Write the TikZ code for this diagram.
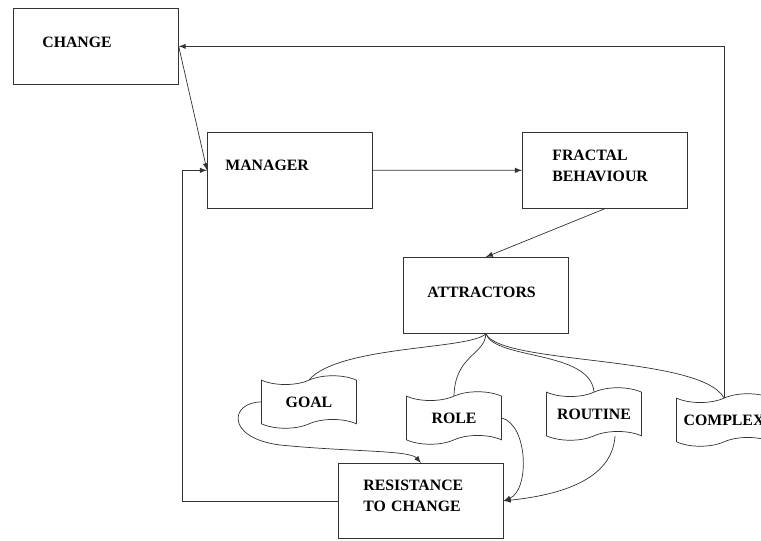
\documentclass[tikz,border=0pt]{standalone}
\usepackage{fontspec}
\setmainfont{Liberation Serif}
\usetikzlibrary{shapes.symbols}

\tikzset{
  box/.style={draw=black!80, anchor=north west, align=left, inner ysep=0pt,
              font=\bfseries\fontsize{9}{12}\selectfont},
  banner/.style={tape, draw=black!80, minimum width=1.9cm, minimum height=1.05cm,
              inner sep=1pt, font=\bfseries\fontsize{9}{12}\selectfont},
  link/.style={draw=black!80, thin},
}

\begin{document}
\begin{tikzpicture}[>=latex]
    \useasboundingbox (0,0) rectangle (15.22,10.8);
    \clip (0,0) rectangle (15.22,10.8);

    % boxes
    \node[box, inner xsep=0.58cm, text width=2.14cm, text height=0.78cm, text depth=0.74cm] (change) at (0.26,10.64) {CHANGE};
    \node[box, inner xsep=0.36cm, text width=2.58cm, text height=0.76cm, text depth=0.76cm] (manager) at (4.14,8.16) {MANAGER};
    \node[box, inner xsep=0.6cm, text width=2.1cm, text height=0.56cm, text depth=0.96cm] (fractal) at (10.44,8.16) {FRACTAL\\BEHAVIOUR};
    \node[box, inner xsep=0.48cm, text width=2.34cm, text height=0.8cm, text depth=0.72cm] (attractors) at (8.06,5.66) {ATTRACTORS};
    \node[box, inner xsep=0.5cm, text width=2.3cm, text height=0.54cm, text depth=0.96cm] (resistance) at (6.76,1.54) {RESISTANCE\\TO CHANGE};

    % banners
    \node[banner] (goal) at (6.18,2.76) {GOAL};
    \node[banner] (role) at (9.08,2.44) {ROLE};
    \node[banner] (routine) at (11.88,2.52) {ROUTINE};
    \node[banner] (complex) at (14.48,2.40) {COMPLEX};

    % main loop
    \draw[link,->] (complex.north) |- (change.east);
    \draw[link,->] (change.east) -- (manager.west);
    \draw[link,->] (manager.east) -- (fractal.west);
    \draw[link,->] (fractal.south) -- (attractors.north);
    \draw[link,->] (resistance.west) -| ([xshift=-0.5cm]manager.west) -- (manager.west);

    % attractors to banners
    \draw[link] (attractors.south) .. controls (9.4,3.8) and (6.8,3.9) .. (goal.north);
    \draw[link] (attractors.south) .. controls (9.7,3.7) and (9.1,3.7) .. (role.north);
    \draw[link] (attractors.south) .. controls (9.9,3.6) and (11.8,3.8) .. (routine.north);
    \draw[link] (attractors.south) .. controls (10.0,3.5) and (14.0,3.7) .. (complex.north);

    % banners to resistance
    \draw[link,->] (goal.west) .. controls (4.6,2.76) and (4.5,2.04) .. (5.6,1.9)
        .. controls (7.0,1.76) and (8.2,1.8) .. (resistance.north);
    \draw[link,->] (role.east) .. controls (10.56,2.3) and (10.6,1.0) .. (resistance.east);
    \draw[link,->] ([xshift=0.42cm]routine.south) .. controls (12.24,1.2) and (11.2,0.9) .. (resistance.east);
\end{tikzpicture}
\end{document}
